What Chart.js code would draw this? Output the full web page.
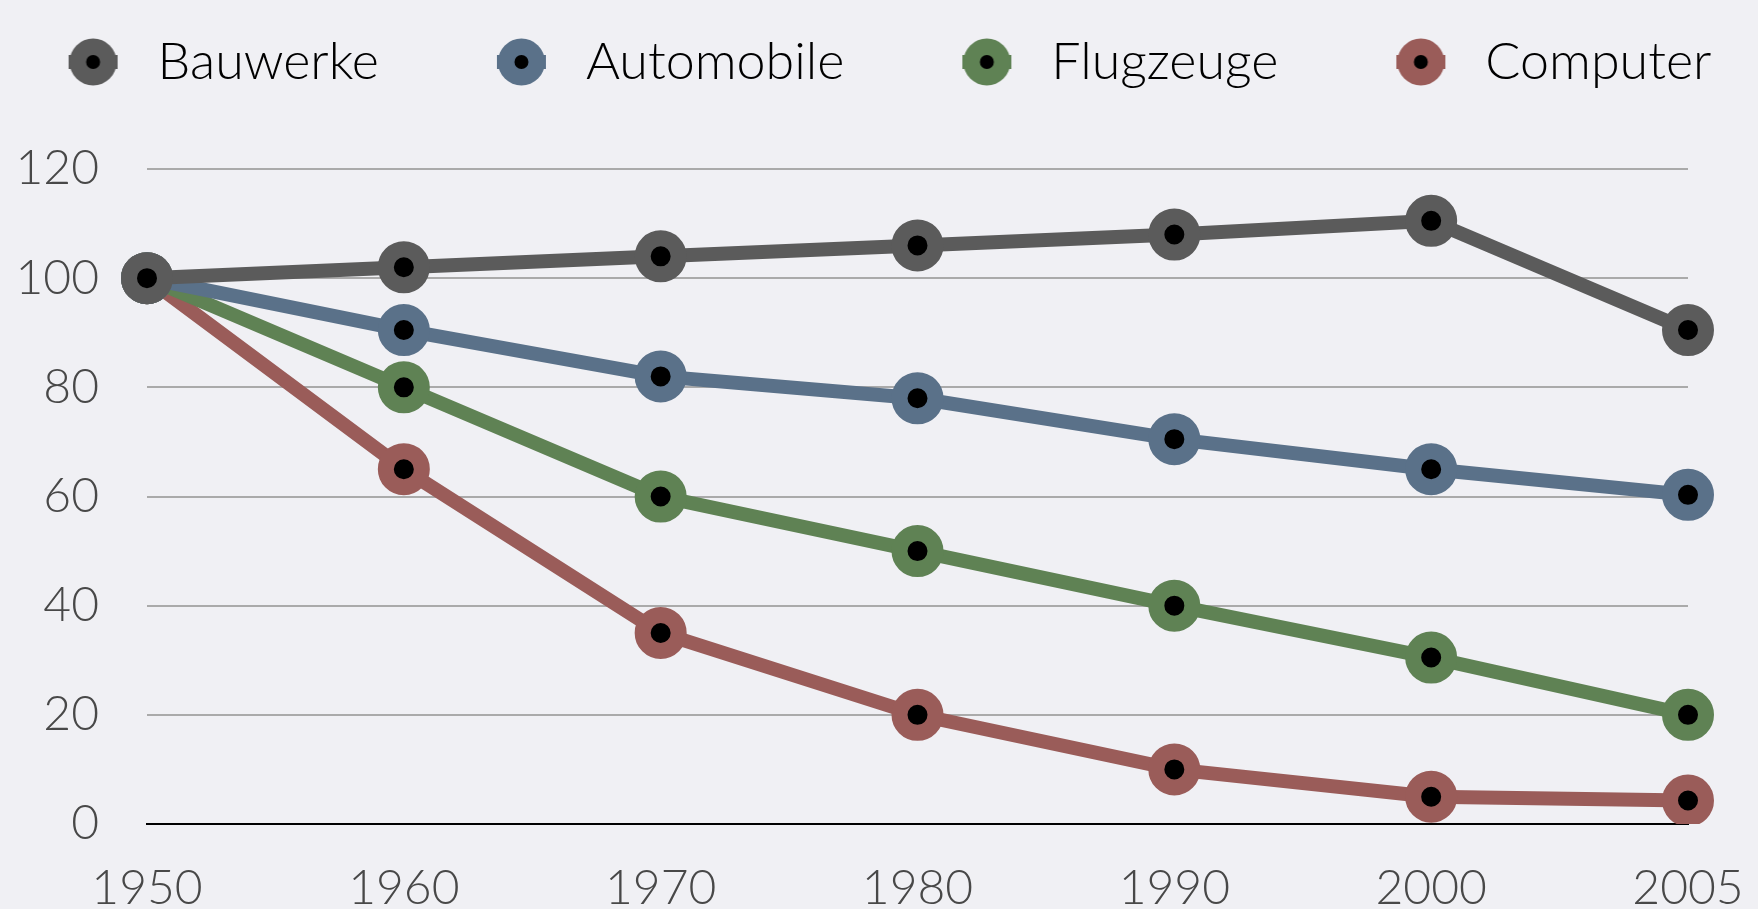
<!DOCTYPE html>
<html><head><meta charset="utf-8">
<script src="https://cdn.jsdelivr.net/npm/chart.js@4.4.1/dist/chart.umd.min.js"></script>
<style>html,body{margin:0;padding:0;background:#f0f0f4;overflow:hidden}canvas{display:block}</style>
</head><body>
<canvas id="c" width="1758" height="909"></canvas>
<script>
const categories = ['1950','1960','1970','1980','1990','2000','2005'];
const seriesNames = ['Bauwerke','Automobile','Flugzeuge','Computer'];
const bauwerke   = [100, 102, 104, 106, 108, 110.5, 90.5];
const automobile = [100, 90.5, 82, 78, 70.5, 65, 60.3];
const flugzeuge  = [100, 80, 60, 50, 40, 30.5, 20];
const computer   = [100, 65, 35, 20, 10, 5, 4.3];
const yTicks = [0, 20, 40, 60, 80, 100, 120];
const colors = ['#5b5b5b', '#5a7189', '#5f8254', '#9a5c59'];

const FONT = 'Lato';
const LEG_FS = 52;
const LEG_PAD = 96;
const LEAD = 22;
const MARK_W = LEAD + 63;

function legendMarker(color) {
  const W = MARK_W, H = 50;
  const cv = document.createElement('canvas');
  cv.width = W; cv.height = H;
  const g = cv.getContext('2d');
  const cx = LEAD + 24.5, cy = H / 2;
  g.strokeStyle = color; g.lineWidth = 14;
  g.beginPath(); g.moveTo(LEAD, cy); g.lineTo(LEAD + 49, cy); g.stroke();
  g.fillStyle = color; g.beginPath(); g.arc(cx, cy, 23.5, 0, Math.PI * 2); g.fill();
  g.fillStyle = '#000'; g.beginPath(); g.arc(cx, cy, 7, 0, Math.PI * 2); g.fill();
  return cv;
}
const markers = colors.map(legendMarker);

const seriesData = [bauwerke, automobile, flugzeuge, computer];
const datasets = seriesData.map((d, i) => ({
  label: seriesNames[i],
  data: d,
  borderColor: colors[i],
  backgroundColor: colors[i],
  borderWidth: 14,
  pointRadius: 18,
  pointHoverRadius: 18,
  pointBorderWidth: 16,
  pointBorderColor: colors[i],
  pointBackgroundColor: '#000',
  tension: 0,
  fill: false
}));

const legendHeight = {
  id: 'legendHeight',
  beforeInit(chart) {
    const lg = chart.legend;
    const orig = lg.fit;
    lg.fit = function () { orig.call(this); this.height = 229; };
  }
};

new Chart(document.getElementById('c'), {
  type: 'line',
  data: { labels: categories, datasets },
  plugins: [legendHeight],
  options: {
    responsive: false,
    animation: false,
    devicePixelRatio: 1,
    layout: { padding: { left: -100, right: -100, top: -60, bottom: 0 } },
    plugins: {
      tooltip: { enabled: false },
      legend: {
        position: 'top',
        labels: {
          usePointStyle: true,
          pointStyleWidth: MARK_W,
          padding: LEG_PAD,
          color: '#484848',
          font: { family: FONT, size: LEG_FS, weight: '300' },
          generateLabels(chart) {
            return chart.data.datasets.map((ds, i) => ({
              text: ds.label,
              fillStyle: colors[i],
              strokeStyle: colors[i],
              lineWidth: 0,
              pointStyle: markers[i],
              datasetIndex: i,
              hidden: false
            }));
          }
        }
      }
    },
    scales: {
      x: {
        offset: false,
        grid: { display: false, drawTicks: false },
        border: { display: true, color: '#000', width: 2 },
        ticks: { color: '#484848', font: { family: FONT, size: 48, weight: '300' }, padding: 36, maxRotation: 0, autoSkip: false },
        afterFit(scale) { scale.height = 85; scale.paddingLeft = 0; scale.paddingRight = 70; }
      },
      y: {
        min: 0, max: 120,
        afterBuildTicks(scale) { scale.ticks = yTicks.map(v => ({ value: v })); },
        grid: {
          drawTicks: false,
          color: ctx => ctx.tick && ctx.tick.value === 0 ? '#000' : '#aaaaaa',
          lineWidth: 2
        },
        border: { display: false },
        ticks: { color: '#484848', font: { family: FONT, size: 48, weight: '300' }, padding: 48 },
        afterFit(scale) { scale.width = 247; }
      }
    }
  }
});
</script>
</body></html>
